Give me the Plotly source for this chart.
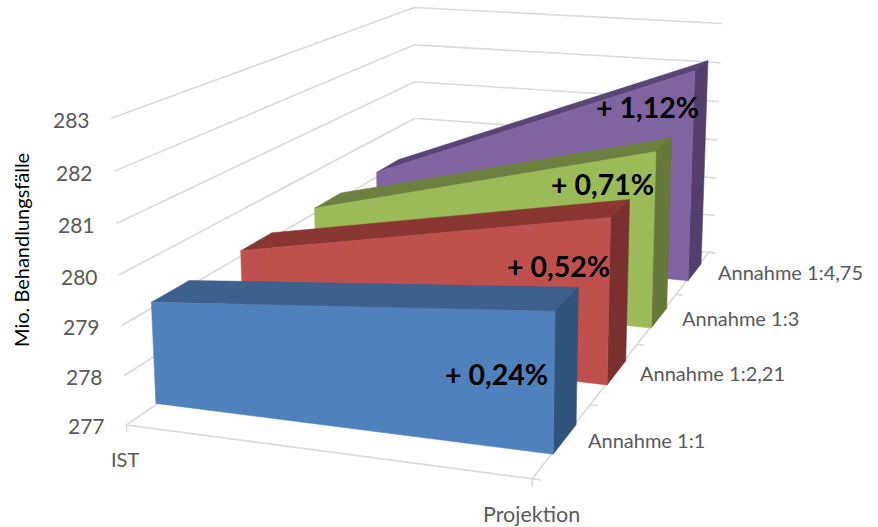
import numpy as np
import plotly.graph_objects as go

categories = ["IST", "Projektion"]
series_names = ["Annahme 1:1", "Annahme 1:2,21", "Annahme 1:3", "Annahme 1:4,75"]
ist_value = [279.1, 279.1, 279.1, 279.1]
projection_value = [279.77, 280.55, 281.08, 282.23]
growth_labels = ["+ 0,24%", "+ 0,52%", "+ 0,71%", "+ 1,12%"]
z_ticks = [277, 278, 279, 280, 281, 282, 283]

# Perspective camera of the chart box: (category, depth, value share, 1) -> page pixels
CAMERA = np.array([
    [368.336, 466.729, -19.9193, 126.378],
    [20.1133, -102.877, -311.689, 424.975],
    [-0.0704527, 0.426896, -0.0429432, 1.0],
])


def project(x, y, z):
    h = CAMERA @ np.array([x, y, (z - 277) / 6, 1.0])
    return h[0] / h[2], h[1] / h[2]


GRID = "#D9D9D9"
face = ["#4F81BD", "#C0504D", "#9BBB59", "#8064A2"]
top = ["#3D618C", "#8A3633", "#6D803F", "#5A4676"]
side = ["#31547C", "#7A302E", "#66783A", "#523F6B"]
Y_FRONT, Y_BACK = 0.31, 0.71
X_LEFT, X_RIGHT = -0.004, 1.004
label_frac = [0.563, 0.714, 0.82, 0.83]
label_dx = [1, 8, 6, 13]

fig = go.Figure()


def line(pts, color=GRID, width=1.6):
    xy = [project(*p) for p in pts]
    fig.add_trace(go.Scatter(x=[a for a, _ in xy], y=[b for _, b in xy], mode="lines",
                             line=dict(color=color, width=width), hoverinfo="skip"))


def poly(pts, color):
    xy = [project(*p) for p in pts]
    fig.add_trace(go.Scatter(x=[a for a, _ in xy] + [xy[0][0]], y=[b for _, b in xy] + [xy[0][1]],
                             mode="lines", fill="toself", fillcolor=color,
                             line=dict(color=color, width=0.5), hoverinfo="skip"))


# walls, floor edges and axis ticks
for z in z_ticks:
    line([(0, 0, z), (0, 1, z), (1.016, 1, z)])
line([(0, 0, 277), (1, 0, 277), (1, 1, 277)])
for i in range(5):
    line([(1, i / 4, 277), (1.02, i / 4, 277)])
line([(0, 0, 277), (0, 0, 276.85)])
line([(1, 0, 277), (1, 0, 276.85)])

# ribbons, back to front
for i in reversed(range(4)):
    y0, y1 = (i + Y_FRONT) / 4, (i + Y_BACK) / 4
    a, b = ist_value[i], projection_value[i]
    poly([(X_LEFT, y0, a), (X_LEFT, y1, a), (X_RIGHT, y1, b), (X_RIGHT, y0, b)], top[i])
    poly([(X_RIGHT, y0, 277), (X_RIGHT, y1, 277), (X_RIGHT, y1, b), (X_RIGHT, y0, b)], side[i])
    poly([(X_LEFT, y0, 277), (X_RIGHT, y0, 277), (X_RIGHT, y0, b), (X_LEFT, y0, a)], face[i])

ann = []
TICK_FONT = dict(family="Lato", size=20, color="#595959")
for z in z_ticks:
    px, py = project(0, 0, z)
    ann.append(dict(x=px - 19, y=py + 1, text=str(z), xanchor="right", yanchor="middle",
                    font=dict(family="Lato", size=21, color="#595959")))
for i, name in enumerate(series_names):
    px, py = project(1, (i + .5) / 4, 277)
    ann.append(dict(x=px + 23, y=py, text=name, xanchor="left", yanchor="middle", font=TICK_FONT))
for x, name, dy, size in zip([0, 1], categories, [34, 35], [20, 21.5]):
    px, py = project(x, 0, 277)
    ann.append(dict(x=px - 1, y=py + dy, text=name, xanchor="center", yanchor="middle",
                    font=dict(family="Lato", size=size, color="#595959")))
for i, t in enumerate(growth_labels):
    zl = 277 + label_frac[i] * (projection_value[i] - 277)
    px, py = project(1, (i + Y_FRONT) / 4, zl)
    ann.append(dict(x=px - 4 + label_dx[i], y=py, text="<b>%s</b>" % t, xanchor="right", yanchor="middle",
                    font=dict(family="Lato", size=28.5, color="black")))
ann.append(dict(x=21, y=250, text="Mio. Behandlungsfälle", textangle=-90, xanchor="center", yanchor="middle",
                font=dict(family="Lato", size=20, color="black")))
for a in ann:
    a.update(xref="x", yref="y", showarrow=False)

fig.update_layout(
    width=878, height=527, margin=dict(l=0, r=0, t=0, b=0), showlegend=False,
    paper_bgcolor="white", plot_bgcolor="white",
    xaxis=dict(range=[0, 878], visible=False, fixedrange=True),
    yaxis=dict(range=[527, 0], visible=False, fixedrange=True),
    annotations=ann,
    shapes=[dict(type="rect", xref="x", yref="y", x0=0, x1=878, y0=525, y1=527,
                 fillcolor="#FEFEF4", line_width=0, layer="below")],
)
fig.write_html("out.html")
